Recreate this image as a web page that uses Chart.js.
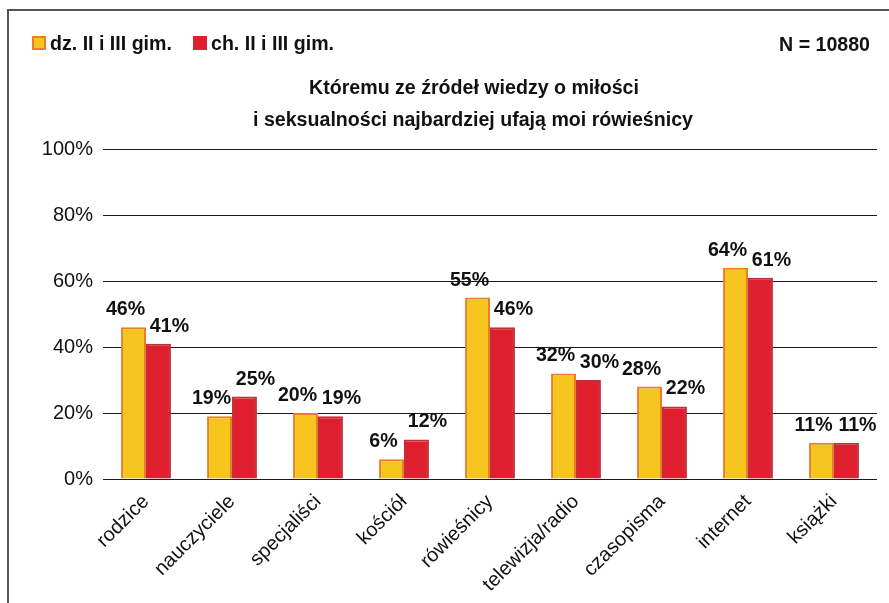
<!DOCTYPE html>
<html lang="pl">
<head>
  <meta charset="UTF-8" />
  <title>Źródła wiedzy o miłości i seksualności</title>
  <script src="https://cdn.jsdelivr.net/npm/chart.js"></script>
  <style>
    body {
      margin: 0;
      background: #fff;
      font-family: 'Liberation Sans', Arial, sans-serif;
    }
    .page {
      position: relative;
      width: 889px;
      height: 603px;
      overflow: hidden;
    }
    .frame {
      position: absolute;
      left: 7px;
      top: 9px;
      width: 940px;
      height: 640px;
      border: 2px solid #555;
    }
    #chart {
      position: absolute;
      left: 0;
      top: 0;
    }
  </style>
</head>
<body>
  <div class="page">
    <div class="frame"></div>
    <canvas id="chart" width="889" height="603"></canvas>
  </div>

  <script>
    const categories = ['rodzice', 'nauczyciele', 'specjaliści', 'kościół', 'rówieśnicy', 'telewizja/radio', 'czasopisma', 'internet', 'książki'];
    const girls = [46, 19, 20, 6, 55, 32, 28, 64, 11];
    const boys = [41, 25, 19, 12, 46, 30, 22, 61, 11];
    const seriesNames = ['dz. II i III gim.', 'ch. II i III gim.'];
    const yMax = 100;
    const yStep = 20;
    const titleLines = ['Któremu ze źródeł wiedzy o miłości', 'i seksualności najbardziej ufają moi rówieśnicy'];
    const sampleNote = 'N = 10880';

    const FONT = "'Liberation Sans', Arial, sans-serif";
    const yellow = '#F7C520', yellowEdge = '#EE7A2A';
    const red = '#DF1F2D', redEdge = '#C02F3A';

    // value labels above the bars (yellow nudged left, red nudged right)
    const valueLabels = {
      id: 'valueLabels',
      afterDatasetsDraw(chart) {
        const ctx = chart.ctx;
        ctx.save();
        ctx.font = 'bold 19.6px ' + FONT;
        ctx.fillStyle = '#111';
        ctx.textAlign = 'center';
        ctx.textBaseline = 'alphabetic';
        chart.data.datasets.forEach((ds, i) => {
          const dx = i === 0 ? -8 : 11;
          chart.getDatasetMeta(i).data.forEach((bar, j) => {
            ctx.fillText(ds.data[j] + '%', bar.x + dx, bar.y - 12);
          });
        });
        ctx.restore();
      }
    };

    // legend, N and the two-line title
    const header = {
      id: 'header',
      afterDraw(chart) {
        const ctx = chart.ctx;
        ctx.save();
        ctx.font = 'bold 19.6px ' + FONT;
        ctx.fillStyle = '#111';
        ctx.textBaseline = 'alphabetic';

        const keys = [[32, yellow, yellowEdge], [193, red, red]];
        keys.forEach(([x, fill, edge], i) => {
          ctx.fillStyle = edge;
          ctx.fillRect(x, 36, 14, 14);
          ctx.fillStyle = fill;
          ctx.fillRect(x + 2, 38, 10, 10);
          ctx.fillStyle = '#111';
          ctx.textAlign = 'left';
          ctx.fillText(seriesNames[i], x + 18, 50);
        });

        ctx.textAlign = 'right';
        ctx.fillText(sampleNote, 870, 51);

        ctx.textAlign = 'center';
        ctx.fillText(titleLines[0], 474, 94);
        ctx.fillText(titleLines[1], 473, 126);
        ctx.restore();
      }
    };

    new Chart(document.getElementById('chart'), {
      type: 'bar',
      data: {
        labels: categories,
        datasets: [
          { label: seriesNames[0], data: girls, backgroundColor: yellow, borderColor: yellowEdge, borderWidth: 2 },
          { label: seriesNames[1], data: boys, backgroundColor: red, borderColor: redEdge, borderWidth: 2 }
        ]
      },
      options: {
        responsive: false,
        animation: false,
        devicePixelRatio: 1,
        categoryPercentage: 0.58,
        barPercentage: 1,
        layout: { padding: { top: 149, right: 12, left: 0, bottom: 0 } },
        scales: {
          x: {
            afterFit(s) { s.height = 124; },
            grid: { display: false },
            border: { display: false },
            ticks: {
              minRotation: 45,
              maxRotation: 45,
              padding: 3,
              color: '#111',
              font: { family: FONT, size: 20 }
            }
          },
          y: {
            min: 0,
            max: yMax,
            afterFit(s) { s.width = 103; },
            border: { display: false },
            grid: { color: '#1a1a1a', lineWidth: 1, drawTicks: false },
            ticks: {
              stepSize: yStep,
              padding: 10,
              color: '#111',
              font: { family: FONT, size: 20 },
              callback: v => v + '%'
            }
          }
        },
        plugins: {
          legend: { display: false },
          tooltip: { enabled: false }
        }
      },
      plugins: [valueLabels, header]
    });
  </script>
</body>
</html>
